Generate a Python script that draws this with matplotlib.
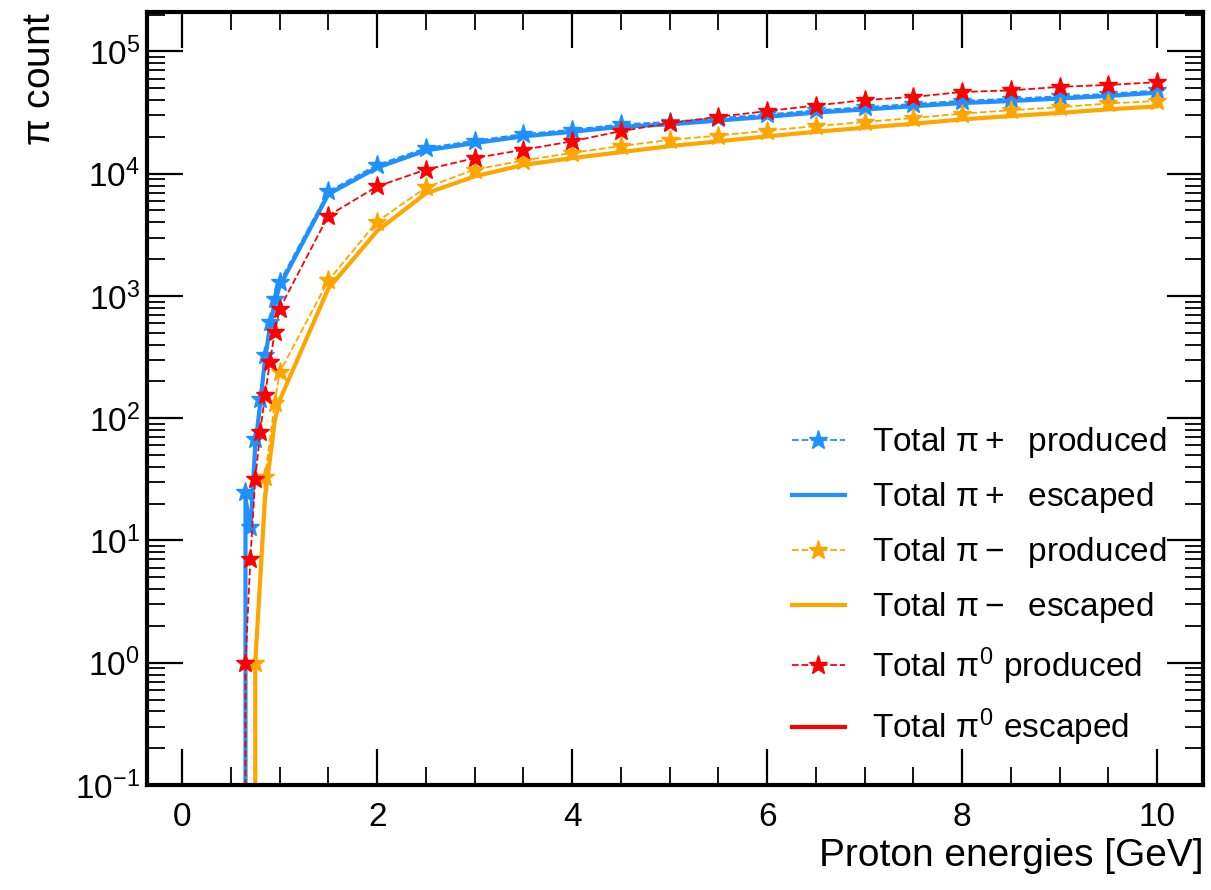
import numpy as np
import matplotlib
matplotlib.use("Agg")
import matplotlib.pyplot as plt

# proton beam energies [GeV]
energies = [0.6, 0.65, 0.7, 0.75, 0.8, 0.85, 0.9, 0.95, 1.0, 1.5, 2.0, 2.5, 3.0, 3.5,
            4.0, 4.5, 5.0, 5.5, 6.0, 6.5, 7.0, 7.5, 8.0, 8.5, 9.0, 9.5, 10.0]
energies_minus = [0.7, 0.75, 0.85, 0.95, 1.0, 1.5, 2.0, 2.5, 3.0, 3.5,
                  4.0, 4.5, 5.0, 5.5, 6.0, 6.5, 7.0, 7.5, 8.0, 8.5, 9.0, 9.5, 10.0]

pip_produced = [0, 25, 13, 67, 143, 328, 610, 950, 1300, 7160, 11800, 16200, 18600, 21100,
                22900, 25300, 26500, 28500, 30500, 33000, 35000, 37200, 39500, 41000, 43000,
                45000, 48000]
pip_escaped = [0, 22, 12, 60, 130, 300, 560, 880, 1200, 6800, 11200, 15500, 17800, 20200,
               22000, 24200, 25300, 27200, 29200, 31600, 33500, 35600, 37800, 39300, 41200,
               43200, 46000]

pim_produced = [0, 1, 33, 134, 237, 1340, 4050, 7710, 10800, 12800, 14800, 16800, 18900,
                20500, 22500, 24500, 26500, 28500, 31000, 33000, 35000, 37500, 39300]
pim_escaped = [0, 1, 22, 95, 140, 1150, 3400, 6900, 9500, 11800, 13400, 15000, 16800,
               18400, 20200, 22000, 23800, 25600, 27800, 29600, 31400, 33600, 35500]

pi0_produced = [0, 1, 7.1, 32, 77, 154, 286, 505, 785, 4540, 7860, 10800, 13400, 15700,
                18400, 22300, 25900, 29200, 32500, 36100, 40000, 42400, 46600, 48000, 51300,
                53200, 56000]
pi0_escaped = [0] * len(energies)

blue = "dodgerblue"
orange = "orange"
red = "red"

plt.rcParams["font.family"] = ["Liberation Sans", "DejaVu Sans"]
plt.rcParams["mathtext.fontset"] = "custom"
plt.rcParams["mathtext.rm"] = "Liberation Sans"
plt.rcParams["mathtext.it"] = "Liberation Sans"
plt.rcParams["mathtext.bf"] = "Liberation Sans:bold"

fig = plt.figure(figsize=(12.11, 8.90), dpi=100)
ax = fig.add_axes([0.1214, 0.118, 0.872, 0.8685])

dash_kw = dict(ls="--", lw=1.3, marker="*", ms=14)
solid_kw = dict(ls="-", lw=3.0)

ax.plot(energies, pip_produced, color=blue, label=r"Total $\pi+$  produced", **dash_kw)
ax.plot(energies, pip_escaped, color=blue, label=r"Total $\pi+$  escaped", **solid_kw)
ax.plot(energies_minus, pim_produced, color=orange, label=r"Total $\pi-$  produced", **dash_kw)
ax.plot(energies_minus, pim_escaped, color=orange, label=r"Total $\pi-$  escaped", **solid_kw)
ax.plot(energies, pi0_produced, color=red, label=r"Total $\pi^0$ produced", **dash_kw)
ax.plot(energies, pi0_escaped, color=red, label=r"Total $\pi^0$ escaped", **solid_kw)

ax.set_yscale("log", nonpositive="clip")
ax.set_ylim(0.1, 2.1e5)
ax.set_xlim(-0.36, 10.47)
ax.set_xticks(np.arange(0, 11, 2))
ax.set_xticks(np.arange(0, 10.01, 0.5), minor=True)

ax.tick_params(which="both", direction="in", top=True, right=True, labelsize=24)
ax.tick_params(which="major", length=26, width=1.6)
ax.tick_params(which="minor", length=13, width=1.3)
ax.tick_params(axis="x", which="major", pad=12)
ax.tick_params(axis="y", which="major", pad=5)
for s in ax.spines.values():
    s.set_linewidth(3)

ax.set_xlabel("Proton energies [GeV]", fontsize=28, loc="right", labelpad=4)
ax.set_ylabel(r"$\pi$ count", fontsize=28, loc="top", labelpad=12)

ax.legend(loc="lower right", frameon=False, fontsize=24, labelspacing=0.6,
          handlelength=1.6, handletextpad=0.8, borderaxespad=0.7)

fig.savefig("out.png", dpi=100)
